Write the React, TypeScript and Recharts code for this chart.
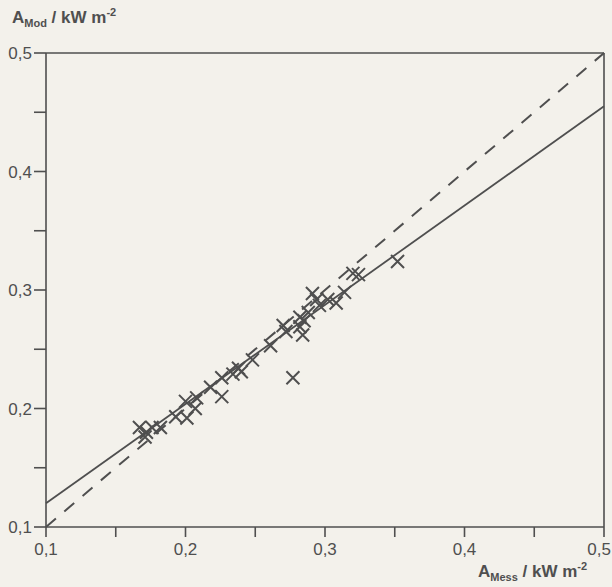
import React from 'react';
import { ScatterChart, Scatter, XAxis, YAxis, ReferenceLine } from 'recharts';

const measured = [
  0.167, 0.172, 0.176, 0.182, 0.171, 0.193, 0.2, 0.208, 0.201, 0.207,
  0.218, 0.226, 0.226, 0.238, 0.24, 0.248, 0.261, 0.27, 0.272, 0.277,
  0.282, 0.285, 0.284, 0.288, 0.291, 0.296, 0.302, 0.308, 0.314, 0.32,
  0.324, 0.352, 0.282, 0.294, 0.234,
];
const modelled = [
  0.184, 0.18, 0.184, 0.184, 0.176, 0.193, 0.206, 0.209, 0.192, 0.2,
  0.218, 0.226, 0.21, 0.234, 0.231, 0.241, 0.253, 0.27, 0.265, 0.226,
  0.277, 0.274, 0.262, 0.281, 0.297, 0.287, 0.292, 0.289, 0.298, 0.314,
  0.313, 0.324, 0.269, 0.292, 0.229,
];

const axisTicks = [0.1, 0.15, 0.2, 0.25, 0.3, 0.35, 0.4, 0.45, 0.5];

// regression line and 1:1 line, end points
const fitLine = [{ x: 0.1, y: 0.12 }, { x: 0.5, y: 0.455 }];
const identityLine = [{ x: 0.1, y: 0.1 }, { x: 0.5, y: 0.5 }];

const points = measured.map((x, i) => ({ x, y: modelled[i] }));

const ink = '#4f4f4f';
const font = '"Liberation Sans", Arial, sans-serif';

const isMajor = (v: number) => Math.abs(v * 10 - Math.round(v * 10)) < 1e-6;
const fmt = (v: number) => (isMajor(v) ? v.toFixed(1).replace('.', ',') : '');

const Cross = (props: any) => {
  const { cx, cy } = props;
  const r = 6.5;
  return (
    <path
      d={`M${cx - r},${cy - r}L${cx + r},${cy + r}M${cx - r},${cy + r}L${cx + r},${cy - r}`}
      stroke={ink}
      strokeWidth={2}
      fill="none"
    />
  );
};

// x tick label; the last one is pulled in so it stays inside the page
const XTick = (props: any) => {
  const { x, y, payload } = props;
  const label = fmt(payload.value);
  if (!label) return null;
  const last = payload.value >= 0.5;
  return (
    <text
      x={last ? 611 : x}
      y={y + 16}
      textAnchor={last ? 'end' : 'middle'}
      fill={ink}
      fontSize={17}
      fontFamily={font}
    >
      {label}
    </text>
  );
};

export default function App() {
  return (
    <div
      style={{
        position: 'absolute',
        left: 0,
        top: 0,
        width: 612,
        height: 587,
        background: '#f3f1eb',
        fontFamily: font,
        color: ink,
      }}
    >
      <ScatterChart width={612} height={587} margin={{ top: 53, right: 8, bottom: 30, left: 0 }}>
        <XAxis
          type="number"
          dataKey="x"
          domain={[0.1, 0.5]}
          ticks={axisTicks}
          interval={0}
          height={30}
          tickSize={10}
          tickMargin={2}
          stroke={ink}
          strokeWidth={1.6}
          tick={<XTick />}
          allowDataOverflow
        />
        <YAxis
          type="number"
          dataKey="y"
          domain={[0.1, 0.5]}
          ticks={axisTicks}
          tickFormatter={fmt}
          interval={0}
          width={46}
          tickSize={12}
          tickMargin={2}
          stroke={ink}
          strokeWidth={1.6}
          tick={{ fill: ink, fontSize: 17, fontFamily: font }}
          allowDataOverflow
        />
        <ReferenceLine y={0.5} stroke={ink} strokeWidth={1.6} />
        <ReferenceLine x={0.5} stroke={ink} strokeWidth={1.6} />
        <ReferenceLine
          segment={identityLine}
          stroke={ink}
          strokeWidth={2}
          strokeDasharray="13 11"
        />
        <ReferenceLine segment={fitLine} stroke={ink} strokeWidth={1.8} />
        <Scatter data={points} shape={<Cross />} isAnimationActive={false} />
      </ScatterChart>
      <div style={{ position: 'absolute', left: 12, top: 6, fontSize: 17, fontWeight: 'bold', whiteSpace: 'nowrap' }}>
        A<sub style={{ fontSize: 11 }}>Mod</sub> / kW m<sup style={{ fontSize: 11 }}>-2</sup>
      </div>
      <div style={{ position: 'absolute', left: 478, top: 560, fontSize: 17, fontWeight: 'bold', whiteSpace: 'nowrap' }}>
        A<sub style={{ fontSize: 11 }}>Mess</sub> / kW m<sup style={{ fontSize: 11 }}>-2</sup>
      </div>
    </div>
  );
}
